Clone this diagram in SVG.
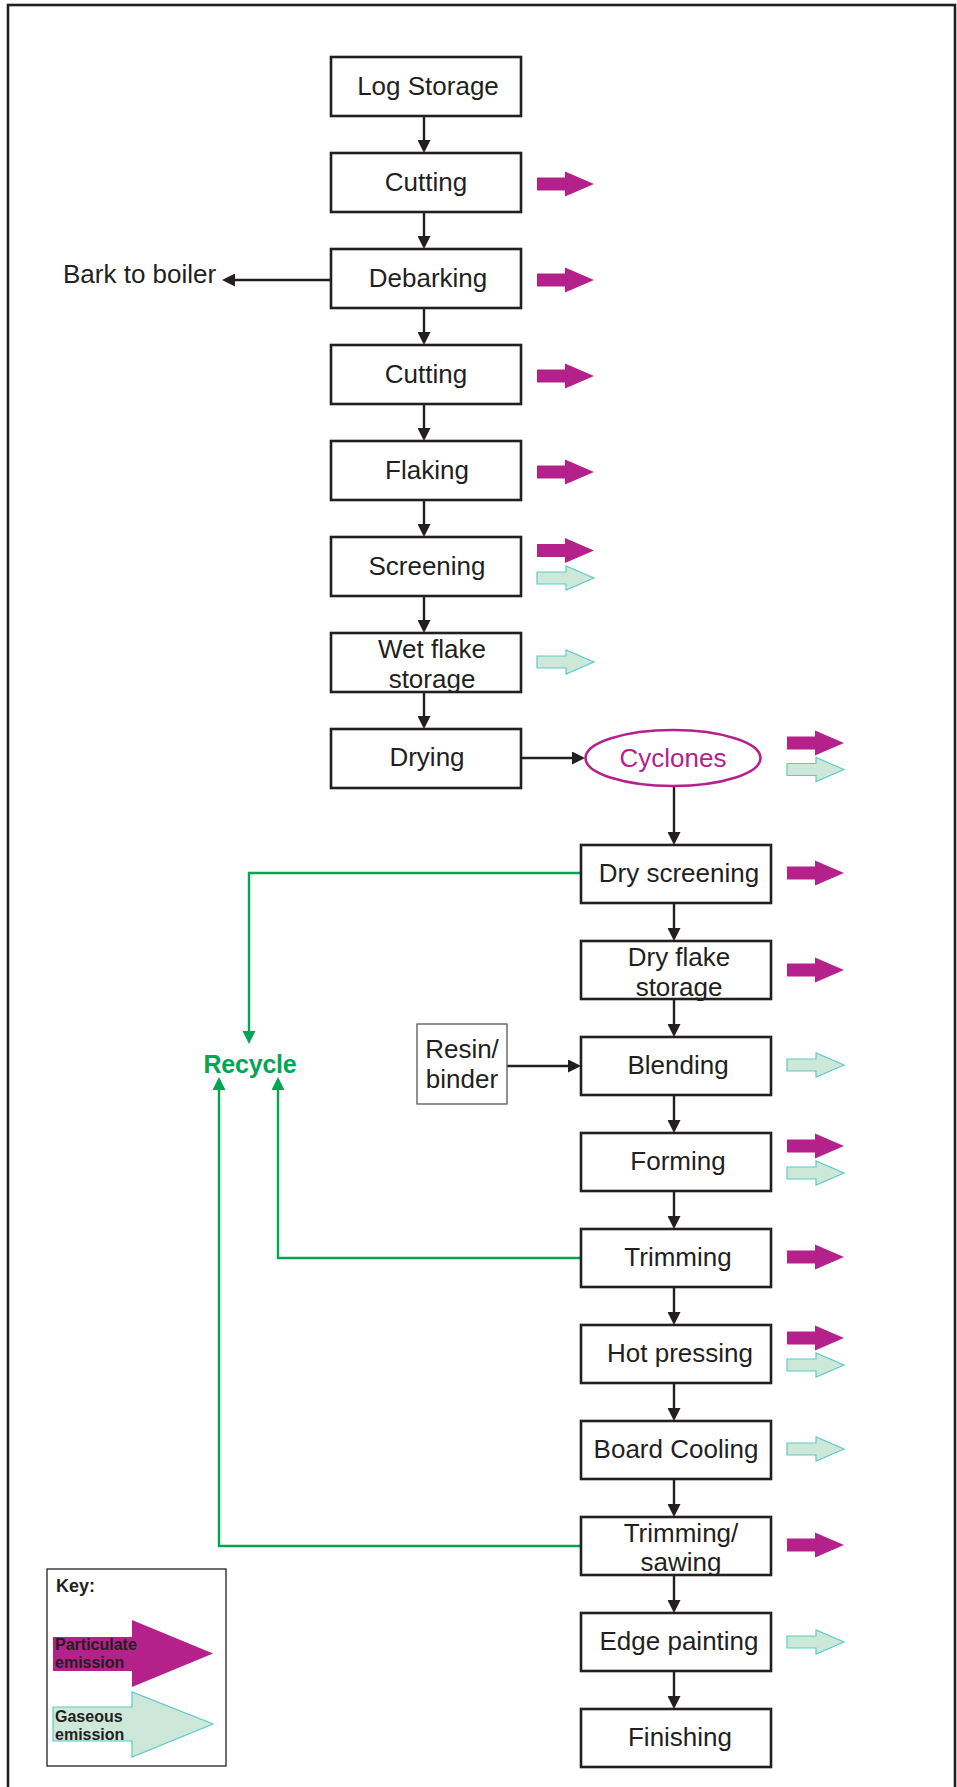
<svg xmlns="http://www.w3.org/2000/svg" xmlns:xlink="http://www.w3.org/1999/xlink" width="957" height="1787" viewBox="0 0 957 1787">
<style>
.box{fill:#fff;stroke:#231f20;stroke-width:2.6}
.lbl{font-family:"Liberation Sans",Arial,sans-serif;font-size:26px;fill:#231f20;text-anchor:middle}
.conn{stroke:#231f20;stroke-width:2.4;fill:none}
.rec{stroke:#00a651;stroke-width:2.4;fill:none}
.pm{fill:#b5218b}
.gs{fill:#cde8d9;stroke:#5ccbc8;stroke-width:1.2}
.key{font-family:"Liberation Sans",Arial,sans-serif;font-weight:bold;fill:#231f20}
</style>
<defs>
<marker id="ah" markerUnits="userSpaceOnUse" markerWidth="13" markerHeight="13" viewBox="0 0 13 13" refX="9" refY="6.5" orient="auto"><path d="M0,0 L13,6.5 L0,13 Z" fill="#231f20"/></marker>
<marker id="ahg" markerUnits="userSpaceOnUse" markerWidth="13" markerHeight="13" viewBox="0 0 13 13" refX="9" refY="6.5" orient="auto"><path d="M0,0 L13,6.5 L0,13 Z" fill="#00a651"/></marker>
<path id="pa" d="M0,-6.5 H28 V-12.5 L57,0 L28,12.5 V6.5 H0 Z"/>
<path id="ga" d="M0,-6 H29 V-12 L57,0 L29,12 V6 H0 Z"/>
</defs>
<rect x="8" y="5" width="947" height="1800" fill="none" stroke="#231f20" stroke-width="2.6"/>

<g id="connectors">
<line class="conn" x1="424" y1="116" x2="424" y2="149" marker-end="url(#ah)"/>
<line class="conn" x1="424" y1="212" x2="424" y2="245" marker-end="url(#ah)"/>
<line class="conn" x1="424" y1="308" x2="424" y2="341" marker-end="url(#ah)"/>
<line class="conn" x1="424" y1="404" x2="424" y2="437" marker-end="url(#ah)"/>
<line class="conn" x1="424" y1="500" x2="424" y2="533" marker-end="url(#ah)"/>
<line class="conn" x1="424" y1="596" x2="424" y2="629" marker-end="url(#ah)"/>
<line class="conn" x1="424" y1="692" x2="424" y2="725" marker-end="url(#ah)"/>
<line class="conn" x1="331" y1="280" x2="226" y2="280" marker-end="url(#ah)"/>
<line class="conn" x1="521" y1="758" x2="581" y2="758" marker-end="url(#ah)"/>
<line class="conn" x1="674" y1="786" x2="674" y2="841" marker-end="url(#ah)"/>
<line class="conn" x1="674" y1="903" x2="674" y2="937" marker-end="url(#ah)"/>
<line class="conn" x1="674" y1="999" x2="674" y2="1033" marker-end="url(#ah)"/>
<line class="conn" x1="674" y1="1095" x2="674" y2="1129" marker-end="url(#ah)"/>
<line class="conn" x1="674" y1="1191" x2="674" y2="1225" marker-end="url(#ah)"/>
<line class="conn" x1="674" y1="1287" x2="674" y2="1321" marker-end="url(#ah)"/>
<line class="conn" x1="674" y1="1383" x2="674" y2="1417" marker-end="url(#ah)"/>
<line class="conn" x1="674" y1="1479" x2="674" y2="1513" marker-end="url(#ah)"/>
<line class="conn" x1="674" y1="1575" x2="674" y2="1609" marker-end="url(#ah)"/>
<line class="conn" x1="674" y1="1671" x2="674" y2="1705" marker-end="url(#ah)"/>
<line class="conn" x1="507" y1="1066" x2="577" y2="1066" marker-end="url(#ah)"/>
<polyline class="rec" points="581,873 249,873 249,1040" marker-end="url(#ahg)"/>
<polyline class="rec" points="581,1258 278,1258 278,1081" marker-end="url(#ahg)"/>
<polyline class="rec" points="581,1546 219,1546 219,1081" marker-end="url(#ahg)"/>
</g>

<g id="emissions">
<use href="#pa" class="pm" x="537" y="184"/>
<use href="#pa" class="pm" x="537" y="280"/>
<use href="#pa" class="pm" x="537" y="376"/>
<use href="#pa" class="pm" x="537" y="472"/>
<use href="#pa" class="pm" x="537" y="550.5"/>
<use href="#ga" class="gs" x="537" y="578"/>
<use href="#ga" class="gs" x="537" y="662"/>
<use href="#pa" class="pm" x="787" y="743"/>
<use href="#ga" class="gs" x="787" y="769.5"/>
<use href="#pa" class="pm" x="787" y="873"/>
<use href="#pa" class="pm" x="787" y="970"/>
<use href="#ga" class="gs" x="787" y="1065"/>
<use href="#pa" class="pm" x="787" y="1146"/>
<use href="#ga" class="gs" x="787" y="1173"/>
<use href="#pa" class="pm" x="787" y="1257"/>
<use href="#pa" class="pm" x="787" y="1338"/>
<use href="#ga" class="gs" x="787" y="1365"/>
<use href="#ga" class="gs" x="787" y="1449"/>
<use href="#pa" class="pm" x="787" y="1545"/>
<use href="#ga" class="gs" x="787" y="1642"/>
</g>

<g id="n-log"><rect class="box" x="331" y="57" width="190" height="59"/><text class="lbl" x="428" y="95">Log Storage</text></g>
<g id="n-cut1"><rect class="box" x="331" y="153" width="190" height="59"/><text class="lbl" x="426" y="191">Cutting</text></g>
<g id="n-debark"><rect class="box" x="331" y="249" width="190" height="59"/><text class="lbl" x="428" y="287">Debarking</text></g>
<g id="n-cut2"><rect class="box" x="331" y="345" width="190" height="59"/><text class="lbl" x="426" y="383">Cutting</text></g>
<g id="n-flake"><rect class="box" x="331" y="441" width="190" height="59"/><text class="lbl" x="427" y="479">Flaking</text></g>
<g id="n-screen"><rect class="box" x="331" y="537" width="190" height="59"/><text class="lbl" x="427" y="575">Screening</text></g>
<g id="n-wet"><rect class="box" x="331" y="633" width="190" height="59"/><text class="lbl" x="432" y="658">Wet flake</text><text class="lbl" x="432" y="688">storage</text></g>
<g id="n-dry"><rect class="box" x="331" y="729" width="190" height="59"/><text class="lbl" x="427" y="766">Drying</text></g>
<g id="n-bark"><text class="lbl" x="63" y="283" style="text-anchor:start">Bark to boiler</text></g>
<g id="n-cyclones"><ellipse cx="673" cy="758" rx="87.5" ry="28" fill="#fff" stroke="#b5218b" stroke-width="2.6"/><text class="lbl" x="673" y="767" style="fill:#b5218b">Cyclones</text></g>
<g id="n-dryscreen"><rect class="box" x="581" y="845" width="190" height="58"/><text class="lbl" x="679" y="882">Dry screening</text></g>
<g id="n-dryflake"><rect class="box" x="581" y="941" width="190" height="58"/><text class="lbl" x="679" y="966">Dry flake</text><text class="lbl" x="679" y="996">storage</text></g>
<g id="n-blend"><rect class="box" x="581" y="1037" width="190" height="58"/><text class="lbl" x="678" y="1074">Blending</text></g>
<g id="n-form"><rect class="box" x="581" y="1133" width="190" height="58"/><text class="lbl" x="678" y="1170">Forming</text></g>
<g id="n-trim"><rect class="box" x="581" y="1229" width="190" height="58"/><text class="lbl" x="678" y="1266">Trimming</text></g>
<g id="n-hot"><rect class="box" x="581" y="1325" width="190" height="58"/><text class="lbl" x="680" y="1362">Hot pressing</text></g>
<g id="n-cool"><rect class="box" x="581" y="1421" width="190" height="58"/><text class="lbl" x="676" y="1458">Board Cooling</text></g>
<g id="n-trimsaw"><rect class="box" x="581" y="1517" width="190" height="58"/><text class="lbl" x="681" y="1542">Trimming/</text><text class="lbl" x="681" y="1571">sawing</text></g>
<g id="n-edge"><rect class="box" x="581" y="1613" width="190" height="58"/><text class="lbl" x="679" y="1650">Edge painting</text></g>
<g id="n-finish"><rect class="box" x="581" y="1709" width="190" height="58"/><text class="lbl" x="680" y="1746">Finishing</text></g>
<g id="n-resin"><rect x="417" y="1024" width="90" height="80" fill="#fff" stroke="#555" stroke-width="1.3"/><text class="lbl" x="462" y="1058">Resin/</text><text class="lbl" x="462" y="1088">binder</text></g>
<g id="n-recycle"><text x="250" y="1073" text-anchor="middle" font-family="Liberation Sans, Arial, sans-serif" font-size="25" font-weight="bold" letter-spacing="-0.2" fill="#00a651">Recycle</text></g>

<g id="key">
<rect x="47" y="1569" width="179" height="197" fill="#fff" stroke="#231f20" stroke-width="1.3"/>
<text class="key" x="56" y="1592" font-size="18">Key:</text>
<path class="pm" d="M53,1637 H132 V1620 L213,1653.5 L132,1687 V1671 H53 Z"/>
<text class="key" x="55" y="1650" font-size="16">Particulate</text>
<text class="key" x="55" y="1668" font-size="16">emission</text>
<path class="gs" d="M53,1707 H132 V1692 L213,1724 L132,1757 V1741 H53 Z"/>
<text class="key" x="55" y="1722" font-size="16">Gaseous</text>
<text class="key" x="55" y="1740" font-size="16">emission</text>
</g>
</svg>
